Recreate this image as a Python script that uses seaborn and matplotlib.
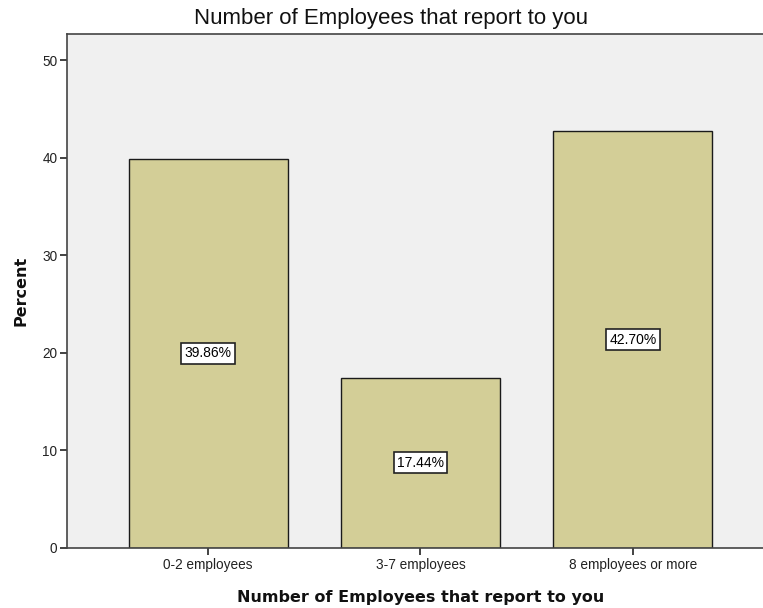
import matplotlib
matplotlib.use("Agg")
import matplotlib.pyplot as plt
import seaborn as sns
import pandas as pd

categories = ["0-2 employees", "3-7 employees", "8 employees or more"]
percents = [39.86, 17.44, 42.70]
y_ticks = [0, 10, 20, 30, 40, 50]

sns.set_theme(style="white")
plt.rcParams["font.family"] = ["Liberation Sans", "DejaVu Sans"]

df = pd.DataFrame({"group": categories, "pct": percents})

fig = plt.figure(figsize=(7.63, 6.08), dpi=100)
ax = fig.add_axes([0.0878, 0.0987, 0.9266, 0.8453])
ax.set_facecolor("#F0F0F0")

sns.barplot(data=df, x="group", y="pct", order=categories, color="#D3CE97",
            saturation=1, width=0.75, edgecolor="#1a1a1a", linewidth=1.0, ax=ax)

for i, v in enumerate(percents):
    ax.text(i, v / 2, f"{v:.2f}%", ha="center", va="center", fontsize=10,
            color="black",
            bbox=dict(boxstyle="square,pad=0.25", facecolor="white",
                      edgecolor="#222222", linewidth=1.2))

ax.set_xlim(-0.665, 2.665)
ax.set_ylim(0, 52.66)
ax.set_yticks(y_ticks)
ax.tick_params(axis="both", which="both", direction="out", length=5, width=1.2,
               color="#222222", labelsize=9.8, labelcolor="#222222", pad=2,
               left=True, bottom=True)

for side in ["left", "bottom", "top", "right"]:
    ax.spines[side].set_visible(True)
    ax.spines[side].set_color("#444444")
    ax.spines[side].set_linewidth(1.2)

ax.set_xlabel("Number of Employees that report to you", fontsize=11.5,
              fontweight="bold", color="#111111", labelpad=13,
              family=["DejaVu Sans"])
ax.set_ylabel("Percent", fontsize=11.5, fontweight="bold", color="#111111",
              labelpad=10, family=["DejaVu Sans"])
fig.text(0.5125, 0.970, "Number of Employees that report to you", ha="center",
         va="center", fontsize=16, color="#111111")

fig.savefig("out.png", dpi=100, facecolor="white")
